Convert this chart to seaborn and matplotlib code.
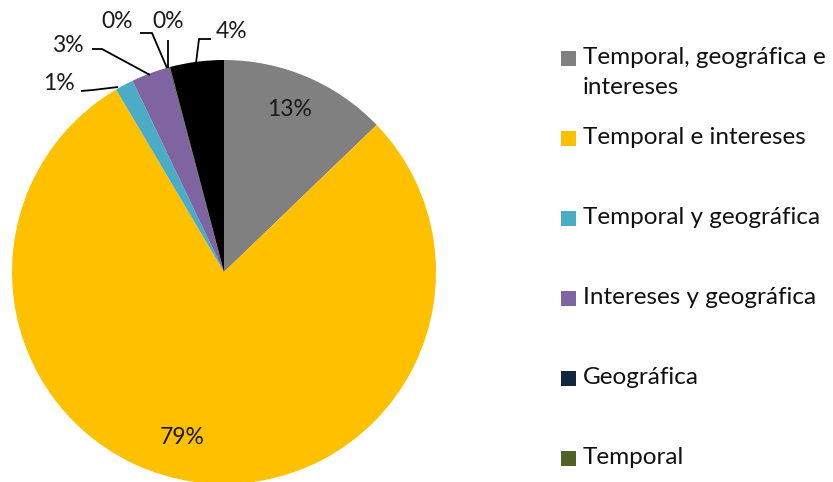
import matplotlib
matplotlib.use("Agg")
import matplotlib.pyplot as plt
import seaborn as sns
from matplotlib.patches import Rectangle

sns.set_theme(style="white")
plt.rcParams['font.family'] = ['Lato', 'DejaVu Sans']

categories = ["Temporal, geográfica e\nintereses", "Temporal e intereses",
              "Temporal y geográfica", "Intereses y geográfica",
              "Geográfica", "Temporal", "Otra"]
values = [12.8, 78.7, 1.4, 2.9, 0.05, 0.05, 4.1]
labels = ["13%", "79%", "1%", "3%", "0%", "0%", "4%"]
colors = ["#808080", "#FFC000", "#4BACC6", "#8064A2", "#14263F", "#4F6228", "#000000"]
legend_count = 6

W, H = 833, 482
cx, cy, R = 224, 272, 212
fig = plt.figure(figsize=(W / 100, H / 100), dpi=100)
ax = fig.add_axes([0, 0, 1, 1])

def d(px, py):
    return ((px - cx) / R, (cy - py) / R)

ax.pie(values, colors=colors, startangle=90, counterclock=False, radius=1,
       wedgeprops=dict(linewidth=0))
ax.set_xlim(-cx / R, (W - cx) / R)
ax.set_ylim((cy - H) / R, cy / R)
ax.set_aspect('auto')
ax.axis('off')

fs_lab = 16.5
fs_leg = 17.5
# inside labels
for lab, (px, py) in [(labels[0], (290, 109)), (labels[1], (182, 437))]:
    ax.text(*d(px, py), lab, ha='center', va='center', fontsize=fs_lab, color='#1a1a1a')

# outside labels with leader lines: label pos, leader polyline in pixels
outside = [
    (labels[2], (59, 83), [(81, 91), (93, 90), (118, 87)]),
    (labels[3], (68, 45), [(92, 49), (102, 49), (150, 75)]),
    (labels[4], (117, 22), [(140, 33), (152, 33), (167, 68)]),
    (labels[5], (168, 21), [(168, 40), (168, 68)]),
    (labels[6], (232, 32), [(211, 39), (199, 39), (196, 63)]),
]
for lab, (px, py), pts in outside:
    ax.text(*d(px, py), lab, ha='center', va='center', fontsize=fs_lab, color='#1a1a1a')
    xs = [d(*p)[0] for p in pts]
    ys = [d(*p)[1] for p in pts]
    ax.plot(xs, ys, color='black', lw=1.3, solid_capstyle='butt')

# legend (manual, Excel-like)
leg_y = [58, 138, 218, 298, 378, 458]
sq = 15
for i in range(legend_count):
    y = leg_y[i]
    fig.patches.append(Rectangle((561 / W, 1 - (y + sq / 2) / H), sq / W, sq / H,
                                 transform=fig.transFigure, facecolor=colors[i],
                                 edgecolor='none'))
    for j, line in enumerate(categories[i].split("\n")):
        fig.text(583 / W, 1 - (y + 30 * j) / H, line, ha='left', va='center',
                 fontsize=fs_leg, color='#111111')

fig.savefig("out.png", dpi=100)
